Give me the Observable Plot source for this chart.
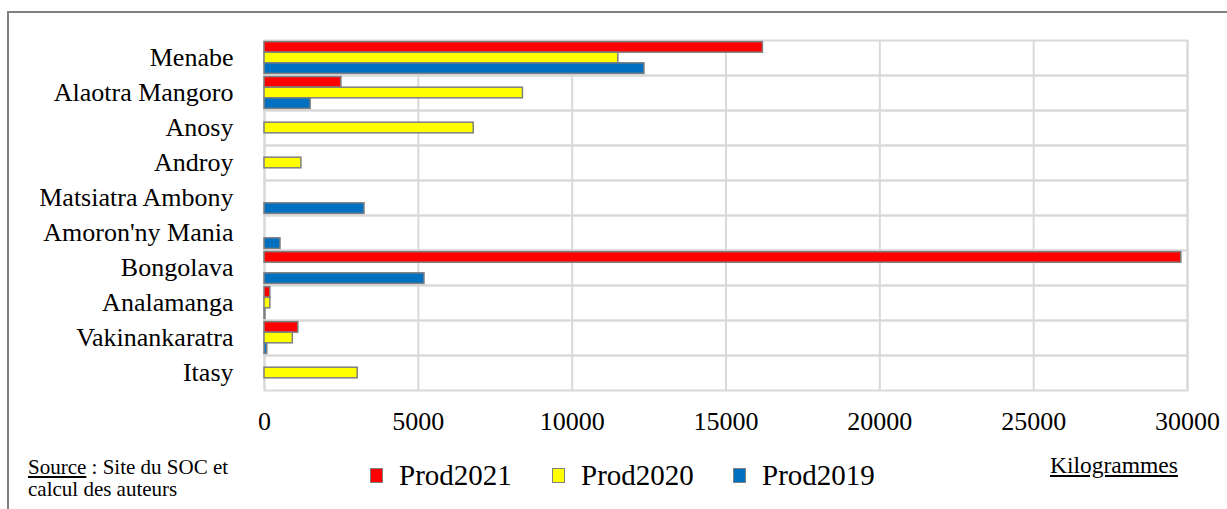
<!DOCTYPE html>
<html>
<head>
<meta charset="utf-8">
<script src="https://cdn.jsdelivr.net/npm/d3@7"></script>
<script src="https://cdn.jsdelivr.net/npm/@observablehq/plot@0.6"></script>
<style>
  html, body { margin: 0; padding: 0; background: #fff; }
  #wrap { position: relative; width: 1227px; height: 509px; overflow: hidden; background: #fff;
          font-family: "Liberation Serif", "Times New Roman", serif; color: #000; }
  #border { position: absolute; left: 7px; top: 11px; width: 1400px; height: 700px; border: 2px solid #7f7f7f; box-sizing: border-box; }
  #chart { position: absolute; left: 0; top: 0; }
  .t { position: absolute; line-height: 1; white-space: nowrap; }
  .sw { position: absolute; width: 11px; height: 13px; border: 1.5px solid #7f7f7f; }
</style>
</head>
<body>
<div id="wrap">
  <div id="border"></div>
  <div id="chart"></div>
  <div class="t" style="left:28px; top:457px; font-size:21px;"><u>Source</u> : Site du SOC et</div>
  <div class="t" style="left:28px; top:479px; font-size:21px;">calcul des auteurs</div>
  <div class="t" style="left:1050px; top:454px; font-size:23.5px;"><u>Kilogrammes</u></div>
  <div id="legend"></div>
</div>
<script>
const regions = ["Menabe", "Alaotra Mangoro", "Anosy", "Androy", "Matsiatra Ambony",
                 "Amoron'ny Mania", "Bongolava", "Analamanga", "Vakinankaratra", "Itasy"];
const series = ["Prod2021", "Prod2020", "Prod2019"];
const colors = ["#ff0000", "#ffff00", "#0070c0"];
const prod2021 = [16200, 2500, 0, 0, 0, 0, 29800, 190, 1100, 0];
const prod2020 = [11500, 8400, 6800, 1200, 0, 0, 0, 190, 920, 3030];
const prod2019 = [12350, 1500, 0, 0, 3250, 520, 5200, 30, 90, 0];
const xTicks = [0, 5000, 10000, 15000, 20000, 25000, 30000];

const values = [prod2021, prod2020, prod2019];
const data = regions.flatMap((r, i) =>
  series.map((s, j) => ({region: r, series: s, value: values[j][i]}))
).filter(d => d.value > 0);

const chart = Plot.plot({
  width: 1227,
  height: 440,
  marginTop: 36,
  marginBottom: 47,
  marginLeft: 264,
  marginRight: 40,
  style: {fontFamily: "'Liberation Serif', 'Times New Roman', serif", fontSize: "26px", background: "transparent", color: "#000"},
  x: {domain: [0, 30000], ticks: xTicks, tickFormat: d => String(d), tickSize: 0, tickPadding: 21, label: null},
  fy: {domain: regions, padding: 0, label: null, tickSize: 0, tickPadding: 31, axis: "left"},
  y: {domain: series, paddingInner: 0, paddingOuter: 0.15, round: false, axis: null},
  color: {domain: series, range: colors},
  marks: [
    Plot.frame({stroke: "#d9d9d9", strokeWidth: 2}),
    Plot.gridX(xTicks, {stroke: "#d9d9d9", strokeWidth: 2, strokeOpacity: 1}),
    Plot.barX(data, {fy: "region", y: "series", x: "value", fill: "series", stroke: "#7f7f7f", strokeWidth: 1.5})
  ]
});
document.getElementById("chart").appendChild(chart);

const legend = document.getElementById("legend");
const swX = [370, 552, 733];
series.forEach((s, i) => {
  const sw = document.createElement("div");
  sw.className = "sw";
  sw.style.left = swX[i] + "px";
  sw.style.top = "468px";
  sw.style.background = colors[i];
  legend.appendChild(sw);
  const t = document.createElement("div");
  t.className = "t";
  t.style.left = (swX[i] + 29) + "px";
  t.style.top = "461px";
  t.style.fontSize = "29px";
  t.textContent = s;
  legend.appendChild(t);
});
</script>
</body>
</html>
